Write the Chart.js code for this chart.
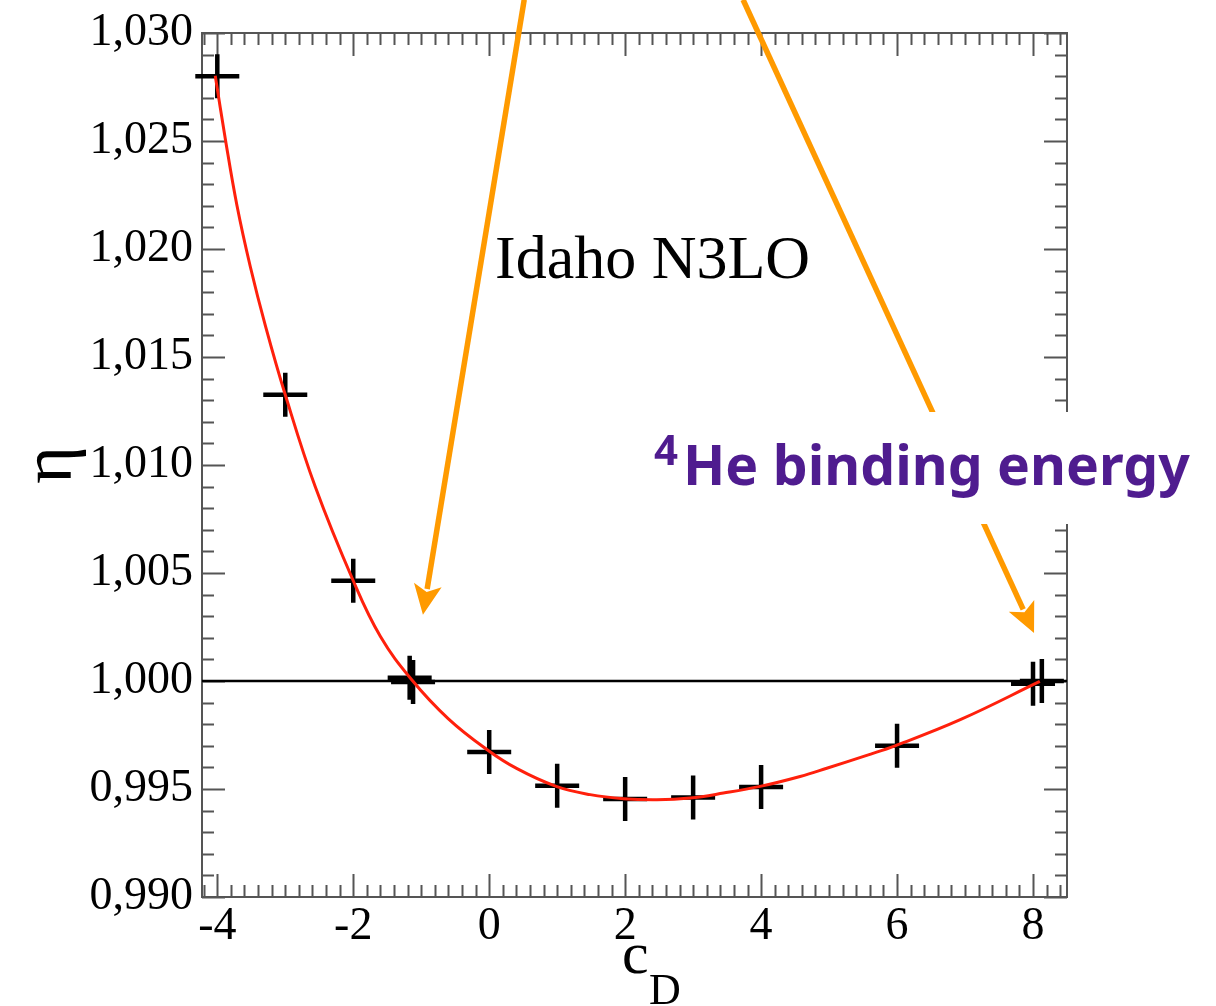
<!DOCTYPE html>
<html>
<head>
<meta charset="utf-8">
<title>Idaho N3LO - eta vs cD</title>
<script src="https://cdn.jsdelivr.net/npm/chart.js@4.4.1/dist/chart.umd.min.js"></script>
<style>
    html, body { margin: 0; padding: 0; background: #fff; }
    #wrap { width: 1216px; height: 1006px; }
</style>
</head>
<body>
<div id="wrap"><canvas id="etaChart" width="1216" height="1006"></canvas></div>
<script>
// computed points (cD, eta)
const cdPoints = [-4, -3, -2, -1.17, -1.12, 0, 1, 2, 3, 4, 6, 8, 8.13];
const etaPoints = [1.0280, 1.01325, 1.00464, 1.00015, 0.99995, 0.99671, 0.99515, 0.99454, 0.99461, 0.99509, 0.99700, 0.99987, 1.0000];

// fitted curve
const cdFit = [-4.03, -3.88, -3.71, -3.515, -3.29, -3.0, -2.56, -2.0, -1.6, -1.14, -0.6, -0.03, 0.41, 0.985, 1.485, 1.975, 2.466, 2.956, 3.446, 3.985, 4.574, 4.966, 5.554, 5.97, 6.93, 8.1];
const etaFit = [1.02802, 1.02506, 1.02200, 1.01919, 1.01642, 1.01325, 1.00900, 1.00464, 1.00206, 1.00006, 0.99825, 0.99682, 0.99594, 0.99512, 0.99474, 0.99455, 0.99450, 0.99458, 0.99481, 0.99512, 0.99558, 0.99596, 0.99656, 0.99700, 0.99821, 0.99998];

// eta = 1 reference line
const refX = [-4.225, 8.5];
const refY = [1, 1];

const xTicks = [-4, -2, 0, 2, 4, 6, 8];
const yTicks = [0.990, 0.995, 1.000, 1.005, 1.010, 1.015, 1.020, 1.025, 1.030];

// orange arrows, in data units (start above the frame)
const arrows = [
    { from: [0.515, 1.03154], to: [-0.975, 1.00307] },
    { from: [3.735, 1.03154], to: [8.015, 1.00222] }
];

const axisColor = '#555';
const serif = '"Liberation Serif", "Times New Roman", serif';

function toXY(xs, ys) {
    return xs.map((x, i) => ({ x: x, y: ys[i] }));
}

const framePlugin = {
    id: 'frame',
    beforeDatasetsDraw(chart) {
        const ctx = chart.ctx;
        const a = chart.chartArea;
        const xs = chart.scales.x;
        const ys = chart.scales.y;
        ctx.save();
        ctx.strokeStyle = axisColor;
        ctx.lineWidth = 2;
        ctx.strokeRect(a.left, a.top, a.right - a.left, a.bottom - a.top);

        ctx.beginPath();
        // x ticks, bottom and top, pointing inward
        for (let i = -21; i <= 42; i++) {
            const v = i * 0.2;
            if (v < xs.min || v > xs.max) continue;
            const px = Math.round(xs.getPixelForValue(v)) + 0.5;
            const major = i % 10 === 0;
            const len = major ? 23 : 12;
            ctx.moveTo(px, a.bottom);
            ctx.lineTo(px, a.bottom - len);
            ctx.moveTo(px, a.top);
            ctx.lineTo(px, a.top + len);
        }
        // y ticks, left and right
        for (let i = 990; i <= 1030; i++) {
            const py = Math.round(ys.getPixelForValue(i / 1000)) + 0.5;
            const major = i % 5 === 0;
            const len = major ? 23 : 12;
            ctx.moveTo(a.left, py);
            ctx.lineTo(a.left + len, py);
            ctx.moveTo(a.right, py);
            ctx.lineTo(a.right - len, py);
        }
        ctx.stroke();
        ctx.restore();
    },
    afterDraw(chart) {
        const ctx = chart.ctx;
        const xs = chart.scales.x;
        const ys = chart.scales.y;
        ctx.save();

        // arrows
        ctx.strokeStyle = '#ff9a00';
        ctx.fillStyle = '#ff9a00';
        ctx.lineWidth = 5.5;
        arrows.forEach(ar => {
            const x0 = xs.getPixelForValue(ar.from[0]);
            const y0 = ys.getPixelForValue(ar.from[1]);
            const x1 = xs.getPixelForValue(ar.to[0]);
            const y1 = ys.getPixelForValue(ar.to[1]);
            const ang = Math.atan2(y1 - y0, x1 - x0);
            const headLen = 30, headW = 14;
            const bx = x1 - Math.cos(ang) * headLen;
            const by = y1 - Math.sin(ang) * headLen;
            ctx.beginPath();
            ctx.moveTo(x0, y0);
            ctx.lineTo(bx + Math.cos(ang) * 4, by + Math.sin(ang) * 4);
            ctx.stroke();
            ctx.beginPath();
            ctx.moveTo(x1, y1);
            ctx.lineTo(bx - Math.sin(ang) * headW, by + Math.cos(ang) * headW);
            ctx.lineTo(bx + Math.cos(ang) * 7, by + Math.sin(ang) * 7);
            ctx.lineTo(bx + Math.sin(ang) * headW, by - Math.cos(ang) * headW);
            ctx.closePath();
            ctx.fill();
        });

        // white box behind the label
        ctx.fillStyle = '#fff';
        ctx.fillRect(640, 412, 576, 112);

        // 4He binding energy
        ctx.fillStyle = '#4f1c8f';
        ctx.textBaseline = 'alphabetic';
        ctx.textAlign = 'left';
        let size = 60;
        ctx.font = 'bold ' + size + 'px "Noto Sans", "DejaVu Sans", sans-serif';
        const w = ctx.measureText('He binding energy').width;
        size = size * 507 / w;
        ctx.font = 'bold ' + size + 'px "Noto Sans", "DejaVu Sans", sans-serif';
        ctx.fillText('He binding energy', 683, 485);
        ctx.font = 'bold 42px "Noto Sans", "DejaVu Sans", sans-serif';
        ctx.fillText('4', 654, 465);

        // Idaho N3LO
        ctx.fillStyle = '#000';
        ctx.font = '62px ' + serif;
        ctx.fillText('Idaho N3LO', 495, 278);

        // x title c_D
        ctx.font = '60px ' + serif;
        ctx.fillText('c', 622, 973);
        ctx.font = '44px ' + serif;
        ctx.fillText('D', 649, 1004);

        // y title eta
        ctx.translate(52, 465);
        ctx.rotate(-Math.PI / 2);
        ctx.textAlign = 'center';
        ctx.textBaseline = 'middle';
        ctx.font = '72px ' + serif;
        ctx.fillText('\u03b7', 0, 0);

        ctx.restore();
    }
};

const chart = new Chart(document.getElementById('etaChart'), {
    type: 'line',
    data: {
        datasets: [
            {
                label: 'fit',
                data: toXY(cdFit, etaFit),
                borderColor: 'rgb(255, 32, 12)',
                borderWidth: 3,
                pointRadius: 0,
                fill: false,
                tension: 0.4,
                order: 0
            },
            {
                label: 'eta',
                data: toXY(cdPoints, etaPoints),
                showLine: false,
                pointStyle: 'cross',
                pointRadius: 22,
                pointBorderWidth: 4.5,
                pointBorderColor: '#000',
                borderColor: '#000',
                clip: false,
                order: 1
            },
            {
                label: 'one',
                data: toXY(refX, refY),
                borderColor: '#000',
                borderWidth: 2.5,
                pointRadius: 0,
                order: 2
            }
        ]
    },
    options: {
        responsive: false,
        animation: false,
        events: [],
        layout: { padding: { top: 33, right: 149, left: 0, bottom: 0 } },
        plugins: {
            legend: { display: false },
            tooltip: { enabled: false }
        },
        scales: {
            x: {
                type: 'linear',
                min: -4.225,
                max: 8.5,
                grid: { display: false, drawTicks: false },
                border: { display: false },
                ticks: {
                    font: { family: serif, size: 46 },
                    color: '#000',
                    padding: 2,
                    maxRotation: 0,
                    autoSkip: false,
                    callback: v => String(v)
                },
                afterBuildTicks: s => { s.ticks = xTicks.map(v => ({ value: v })); },
                afterFit: s => { s.height = 109; s.paddingLeft = 0; s.paddingRight = 0; }
            },
            y: {
                type: 'linear',
                min: 0.99,
                max: 1.03,
                grid: { display: false, drawTicks: false },
                border: { display: false },
                ticks: {
                    font: { family: serif, size: 46 },
                    color: '#000',
                    padding: 9,
                    autoSkip: false,
                    callback: v => v.toFixed(3).replace('.', ',')
                },
                afterBuildTicks: s => { s.ticks = yTicks.map(v => ({ value: v })); },
                afterFit: s => { s.width = 202; s.paddingTop = 0; s.paddingBottom = 0; }
            }
        }
    },
    plugins: [framePlugin]
});
</script>
</body>
</html>
